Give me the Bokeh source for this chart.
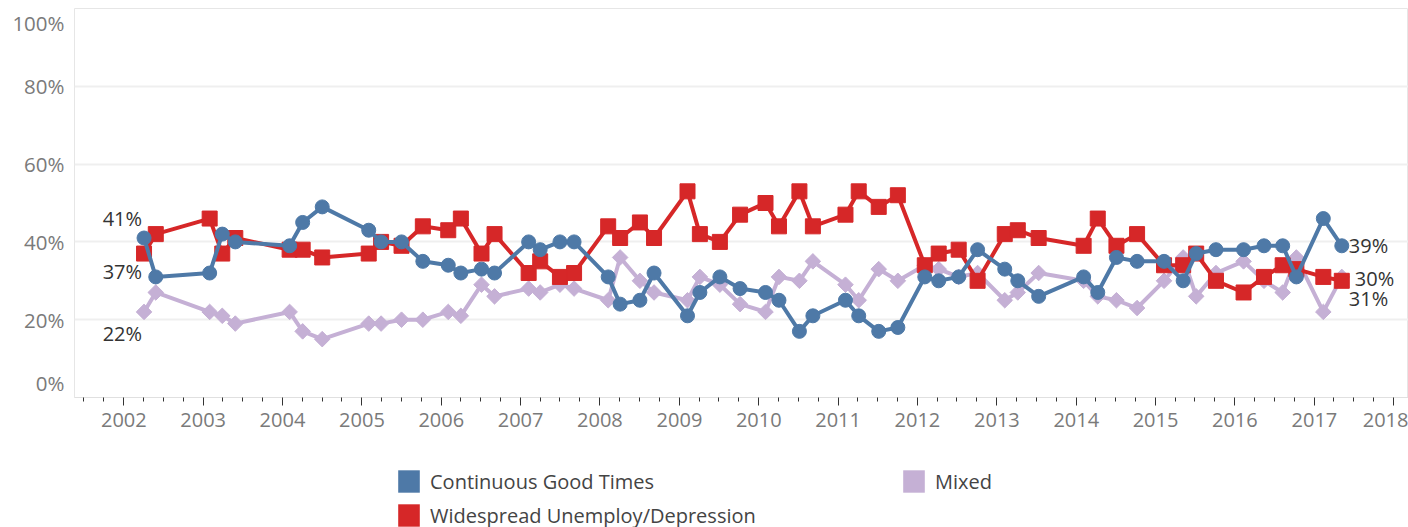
import pandas as pd
from bokeh.plotting import figure
from bokeh.layouts import column
from bokeh.models import (FixedTicker, DatetimeTickFormatter, CustomJSTickFormatter,
                          Legend, LegendItem, Range1d, ColumnDataSource)
from bokeh.core.properties import value
from bokeh.embed import file_html
from bokeh.resources import INLINE

# Survey fieldwork dates and share of respondents (%) per expectation
survey_dates = [
    "2002-04-04", "2002-05-28", "2003-01-31", "2003-03-30", "2003-05-29",
    "2004-02-03", "2004-04-03", "2004-07-02", "2005-02-01", "2005-03-30",
    "2005-07-02", "2005-10-08", "2006-02-02", "2006-04-01", "2006-07-05",
    "2006-09-03", "2007-02-07", "2007-04-01", "2007-07-01", "2007-09-04",
    "2008-02-08", "2008-04-03", "2008-07-03", "2008-09-06", "2009-02-07",
    "2009-04-05", "2009-07-06", "2009-10-07", "2010-02-01", "2010-04-04",
    "2010-07-07", "2010-09-07", "2011-02-04", "2011-04-06", "2011-07-07",
    "2011-10-03", "2012-02-04", "2012-04-08", "2012-07-09", "2012-10-04",
    "2013-02-06", "2013-04-07", "2013-07-12", "2014-02-04", "2014-04-10",
    "2014-07-05", "2014-10-08", "2015-02-09", "2015-05-08", "2015-07-07",
    "2015-10-06", "2016-02-10", "2016-05-14", "2016-08-08", "2016-10-10",
    "2017-02-11", "2017-05-07",
]
good_times = [41, 31, 32, 42, 40, 39, 45, 49, 43, 40, 40, 35, 34, 32, 33, 32, 40, 38, 40, 40,
              31, 24, 25, 32, 21, 27, 31, 28, 27, 25, 17, 21, 25, 21, 17, 18, 31, 30, 31, 38,
              33, 30, 26, 31, 27, 36, 35, 35, 30, 37, 38, 38, 39, 39, 31, 46, 39]
unemployment = [37, 42, 46, 37, 41, 38, 38, 36, 37, 40, 39, 44, 43, 46, 37, 42, 32, 35, 31, 32,
                44, 41, 45, 41, 53, 42, 40, 47, 50, 44, 53, 44, 47, 53, 49, 52, 34, 37, 38, 30,
                42, 43, 41, 39, 46, 39, 42, 34, 34, 37, 30, 27, 31, 34, 33, 31, 30]
mixed = [22, 27, 22, 21, 19, 22, 17, 15, 19, 19, 20, 20, 22, 21, 29, 26, 28, 27, 29, 28,
         25, 36, 30, 27, 25, 31, 29, 24, 22, 31, 30, 35, 29, 25, 33, 30, 34, 33, 31, 32,
         25, 27, 32, 30, 26, 25, 23, 30, 36, 26, 32, 35, 30, 27, 36, 22, 31]

series_names = ["Continuous Good Times", "Widespread Unemploy/Depression", "Mixed"]
grid_ticks = [20, 40, 60, 80]
year_ticks = list(range(2002, 2019))

BLUE = "#4e79a7"
RED = "#d62728"
LAVENDER = "#c5b0d5"
FONT = "Open Sans"

dates = pd.to_datetime(survey_dates)


def ms(ts):
    return pd.Timestamp(ts).value // 10**6


p = figure(width=1408, height=447, x_axis_type="datetime",
           x_range=Range1d(pd.Timestamp("2001-05-19"), pd.Timestamp("2018-03-10")),
           y_range=Range1d(0, 100),
           output_backend="svg", toolbar_location=None,
           min_border_left=74, min_border_right=0, min_border_top=8, min_border_bottom=50)
p.outline_line_color = "#e6e6e6"
p.background_fill_color = "white"

# grid
p.xgrid.visible = False
p.ygrid.ticker = FixedTicker(ticks=grid_ticks)
p.ygrid.grid_line_color = "#efefef"
p.ygrid.grid_line_width = 2

# y axis: the 0% and 100% labels sit just inside the frame edges
p.yaxis.ticker = FixedTicker(ticks=[3.6] + grid_ticks + [96.2])
p.yaxis.formatter = CustomJSTickFormatter(
    code="return (tick < 10 ? 0 : (tick > 90 ? 100 : Math.round(tick))) + '%';")
p.yaxis.axis_line_color = None
p.yaxis.major_tick_line_color = None
p.yaxis.minor_tick_line_color = None
p.yaxis.major_tick_out = 0
p.yaxis.major_label_standoff = 10
p.yaxis.major_label_text_font = FONT
p.yaxis.major_label_text_font_size = "20.5px"
p.yaxis.major_label_text_color = "#7a7a7a"

# x axis: years with quarterly minor ticks
major = [ms(f"{y}-01-01") for y in year_ticks]
minor = [ms(f"{y}-{m:02d}-01") for y in range(2001, 2019) for m in (4, 7, 10)]
p.xaxis.ticker = FixedTicker(ticks=major, minor_ticks=minor)
fmt = "%Y"
p.xaxis.formatter = DatetimeTickFormatter(years=fmt, months=fmt, days=fmt, hours=fmt,
                                          hourmin=fmt, minutes=fmt, minsec=fmt, seconds=fmt,
                                          milliseconds=fmt, microseconds=fmt)
p.xaxis.axis_line_color = "#e0e0e0"
p.xaxis.major_tick_line_color = "#333333"
p.xaxis.minor_tick_line_color = "#333333"
p.xaxis.major_tick_in = 0
p.xaxis.major_tick_out = 8
p.xaxis.minor_tick_in = 0
p.xaxis.minor_tick_out = 4
p.xaxis.major_label_standoff = 7
p.xaxis.major_label_text_font = FONT
p.xaxis.major_label_text_font_size = "20px"
p.xaxis.major_label_text_color = "#7a7a7a"

# series
src = ColumnDataSource(dict(date=dates, good=good_times, unemp=unemployment, mixed=mixed))

p.line("date", "mixed", source=src, line_color=LAVENDER, line_width=4)
p.scatter("date", "mixed", source=src, marker="square", angle=0.785398, size=11,
          fill_color=LAVENDER, line_color=LAVENDER)

p.line("date", "unemp", source=src, line_color=RED, line_width=4)
p.scatter("date", "unemp", source=src, marker="square", size=15,
          fill_color=RED, line_color=RED)

p.line("date", "good", source=src, line_color=BLUE, line_width=4)
p.scatter("date", "good", source=src, marker="circle", size=14,
          fill_color=BLUE, line_color=BLUE)

# first / last value labels
first = dict(x=[dates[0]] * 3, y=[good_times[0], unemployment[0], mixed[0]],
             t=[f"{good_times[0]}%", f"{unemployment[0]}%", f"{mixed[0]}%"],
             dy=[-20, 18, 22])
last = dict(x=[dates[-1]] * 3, y=[good_times[-1], unemployment[-1], mixed[-1]],
            t=[f"{good_times[-1]}%", f"{unemployment[-1]}%", f"{mixed[-1]}%"],
            dx=[7, 13, 7], dy=[0, -2, 22])
p.text(x="x", y="y", text="t", source=ColumnDataSource(first), x_offset=-2, y_offset="dy",
       text_align="right", text_baseline="middle", text_font=value(FONT),
       text_font_size="20px", text_color="#333333")
p.text(x="x", y="y", text="t", source=ColumnDataSource(last), x_offset="dx", y_offset="dy",
       text_align="left", text_baseline="middle", text_font=value(FONT),
       text_font_size="20px", text_color="#333333")

# legend strip below the chart (its frame lines up with the chart frame)
lg = figure(width=1408, height=80, x_range=Range1d(0, 1), y_range=Range1d(0, 1),
            output_backend="svg", toolbar_location=None, title=None,
            x_axis_location=None, y_axis_location=None, min_border=0)
lg.outline_line_color = None
lg.grid.visible = False


def swatch(color):
    # hidden one-item renderer whose fill is shown as the legend square
    return lg.quad(left=[0], right=[0], top=[0], bottom=[0], fill_color=color,
                   line_color=None, visible=False)


sw_good, sw_unemp, sw_mixed = swatch(BLUE), swatch(RED), swatch(LAVENDER)

legend_style = dict(orientation="vertical", glyph_width=27, glyph_height=28, spacing=6,
                    padding=0, margin=0, border_line_color=None, background_fill_alpha=0,
                    label_text_font=FONT, label_text_font_size="20px",
                    label_text_color="#444444", label_standoff=8, click_policy="none")
lg.add_layout(Legend(items=[LegendItem(label=series_names[0], renderers=[sw_good]),
                            LegendItem(label=series_names[1], renderers=[sw_unemp])],
                     location=(321, -2), **legend_style))
lg.add_layout(Legend(items=[LegendItem(label=series_names[2], renderers=[sw_mixed])],
                     location=(826, 32), **legend_style))

open("out.html", "w").write(file_html(column(p, lg), INLINE))
